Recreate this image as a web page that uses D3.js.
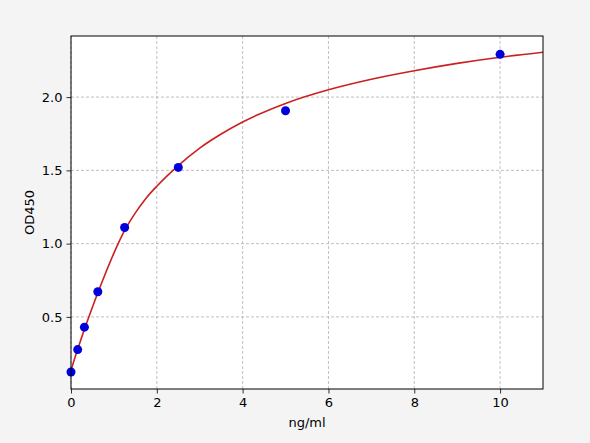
<!DOCTYPE html>
<html>
<head>
<meta charset="utf-8">
<script src="https://cdn.jsdelivr.net/npm/d3@7"></script>
<style>
  html, body { margin: 0; padding: 0; background: #f4f4f4; }
  svg { display: block; font-family: "DejaVu Sans", sans-serif; }
</style>
</head>
<body>
<svg id="chart" width="590" height="443"></svg>
<script>
// Standard points (concentration ng/ml, OD450)
const concentrations = [0, 0.156, 0.3125, 0.625, 1.25, 2.5, 5, 10];
const odValues = [0.124, 0.277, 0.43, 0.672, 1.11, 1.52, 1.907, 2.292];

const curveX = [0, 0.1, 0.156, 0.25, 0.3125, 0.45, 0.625, 0.8, 1.0, 1.25, 1.5, 1.75, 2.0, 2.5, 3.0, 3.5, 4.0, 5.0, 6.0, 7.0, 8.0, 9.0, 10.0, 11.0];
const curveY = [0.135, 0.23, 0.28, 0.362, 0.415, 0.527, 0.665, 0.795, 0.935, 1.09, 1.21, 1.31, 1.392, 1.533, 1.652, 1.748, 1.83, 1.957, 2.05, 2.122, 2.18, 2.23, 2.272, 2.306];

const xTicks = [0, 2, 4, 6, 8, 10];
const yTicks = [0.5, 1.0, 1.5, 2.0];
const xDomain = [0, 11];
const yDomain = [0.008, 2.417];

const margin = { left: 71, top: 36, right: 47, bottom: 54 };
const W = 590, H = 443;
const svg = d3.select("#chart");
const iw = W - margin.left - margin.right;
const ih = H - margin.top - margin.bottom;

const x = d3.scaleLinear().domain(xDomain).range([margin.left, margin.left + iw]);
const y = d3.scaleLinear().domain(yDomain).range([margin.top + ih, margin.top]);

// plot background
svg.append("rect")
  .attr("x", margin.left).attr("y", margin.top)
  .attr("width", iw).attr("height", ih)
  .attr("fill", "#ffffff");

// grid
const grid = svg.append("g").attr("stroke", "#b0b0b0").attr("stroke-width", 0.8).attr("stroke-dasharray", "3,2");
grid.selectAll("line.vx").data(xTicks).join("line")
  .attr("x1", d => x(d)).attr("x2", d => x(d))
  .attr("y1", margin.top).attr("y2", margin.top + ih);
grid.selectAll("line.hy").data(yTicks).join("line")
  .attr("x1", margin.left).attr("x2", margin.left + iw)
  .attr("y1", d => y(d)).attr("y2", d => y(d));

svg.append("clipPath").attr("id", "clip")
  .append("rect").attr("x", margin.left).attr("y", margin.top).attr("width", iw).attr("height", ih);

// fitted curve
const curvePts = curveX.map((cx, i) => [cx, curveY[i]]);
svg.append("path")
  .datum(curvePts)
  .attr("clip-path", "url(#clip)")
  .attr("fill", "none")
  .attr("stroke", "#cc1f1f")
  .attr("stroke-width", 1.6)
  .attr("d", d3.line().x(d => x(d[0])).y(d => y(d[1])).curve(d3.curveMonotoneX));

// points
svg.append("g").selectAll("circle")
  .data(concentrations.map((c, i) => [c, odValues[i]]))
  .join("circle")
  .attr("cx", d => x(d[0])).attr("cy", d => y(d[1]))
  .attr("r", 4.5)
  .attr("fill", "#0000dd");

// axes
const xAxis = d3.axisBottom(x).tickValues(xTicks).tickFormat(d3.format("d")).tickSize(4.5).tickPadding(4);
const yAxis = d3.axisLeft(y).tickValues(yTicks).tickFormat(d3.format(".1f")).tickSize(4.5).tickPadding(4);

const gx = svg.append("g").attr("transform", `translate(0,${margin.top + ih})`).call(xAxis);
const gy = svg.append("g").attr("transform", `translate(${margin.left},0)`).call(yAxis);
[gx, gy].forEach(g => {
  g.select(".domain").remove();
  g.selectAll(".tick line").attr("stroke", "#000").attr("stroke-width", 0.8);
  g.selectAll(".tick text").attr("fill", "#000").attr("font-size", "13px").attr("font-family", "DejaVu Sans, sans-serif");
});

// frame
svg.append("rect")
  .attr("x", margin.left).attr("y", margin.top)
  .attr("width", iw).attr("height", ih)
  .attr("fill", "none").attr("stroke", "#000").attr("stroke-width", 1);

// labels
svg.append("text")
  .attr("x", margin.left + iw / 2).attr("y", 427)
  .attr("text-anchor", "middle").attr("font-size", "13px").attr("fill", "#000")
  .text("ng/ml");
svg.append("text")
  .attr("transform", `translate(34,${margin.top + ih / 2}) rotate(-90)`)
  .attr("text-anchor", "middle").attr("font-size", "13px").attr("fill", "#000")
  .text("OD450");
</script>
</body>
</html>
